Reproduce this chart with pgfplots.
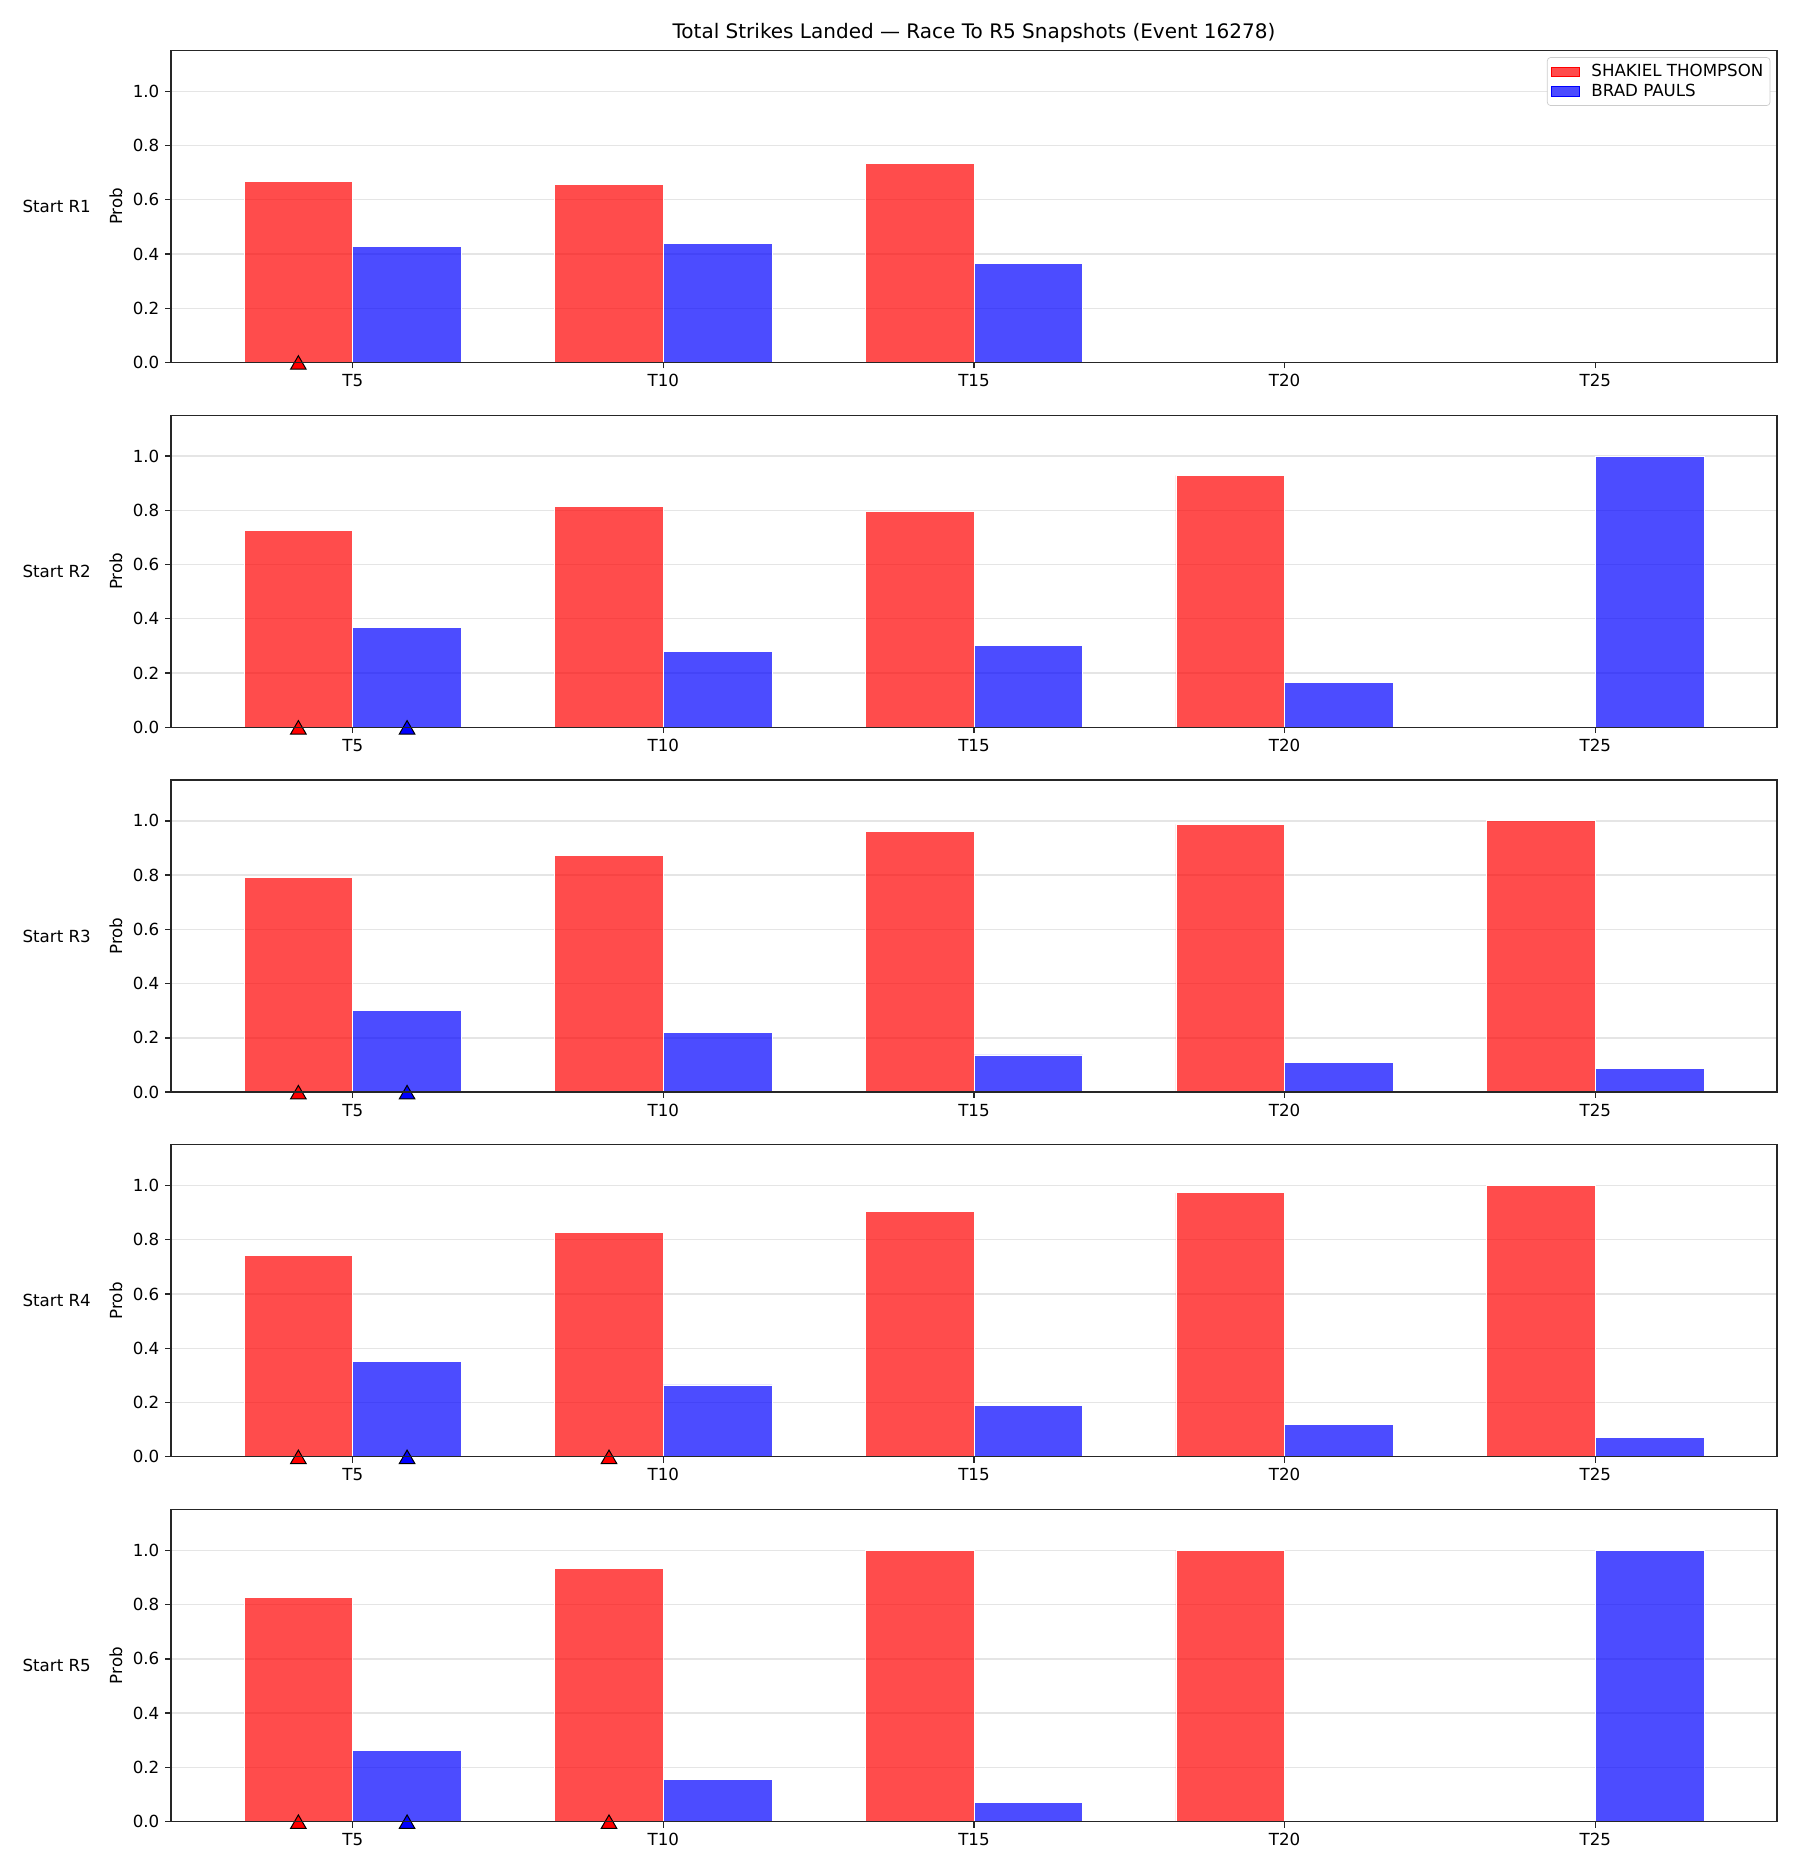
\documentclass[border=0pt]{standalone}
\usepackage{pgfplots}
\pgfplotsset{compat=1.18}
\usepackage{fontspec}
\setmainfont{DejaVu Sans}
\tikzset{startlab/.style={font=\fontsize{10}{12}\selectfont, xshift=-68.6pt}}
\pgfplotsset{layers/mylayers/.define layer set={axis background,axis grid,main,axis ticks,axis lines,axis tick labels,axis descriptions,axis foreground}{}}
\begin{document}
\begin{tikzpicture}
\pgfplotsset{
 panel/.style={at={(102.6pt,#1)}, anchor=south west, scale only axis,
  set layers=mylayers,
  width=963.6pt, height=187.2pt,
  xmin=-0.585, xmax=4.585, ymin=0, ymax=1.15,
  xtick={0,1,2,3,4}, xticklabels={T5,T10,T15,T20,T25},
  ytick={0,0.2,0.4,0.6,0.8,1.0},
  yticklabel style={/pgf/number format/fixed, /pgf/number format/fixed zerofill, /pgf/number format/precision=1},
  /pgf/number format/assume math mode=true,
  tick align=outside, tick pos=left, major tick length=3.5pt,
  ymajorgrids, grid style={color=black!10, line width=0.8pt},
  axis line style={line width=0.8pt, black!85},
  every tick/.style={black!85, line width=0.8pt},
  tick label style={font=\fontsize{10}{12}\selectfont, black},
  ylabel={Prob},
  every axis y label/.style={at={(axis description cs:-0.03425,0.5)}, rotate=90, anchor=center, font=\fontsize{10}{12}\selectfont},
  extra description/.code={\draw[black!85, line width=0.8pt, line cap=rect] (0,0) -- (1,0);},
  clip=false},
 rbar/.style={ybar, bar width=0.35, bar shift=-0.175, fill=red, fill opacity=0.7, draw=white, line width=0.5pt,
  legend image code/.code={\path (0pt,0pt) -- (22pt,0pt); \fill[red, fill opacity=0.7, sharp corners] (0pt,-2.8pt) rectangle (17pt,2.8pt);}},
 bbar/.style={ybar, bar width=0.35, bar shift=0.175, fill=blue, fill opacity=0.7, draw=white, line width=0.5pt,
  legend image code/.code={\path (0pt,0pt) -- (22pt,0pt); \fill[blue, fill opacity=0.7, sharp corners] (0pt,-2.8pt) rectangle (17pt,2.8pt);}},
 rtri/.style={only marks, on layer=axis foreground, mark=triangle*, mark size=5.4pt, mark options={fill=red, draw=black, line width=0.6pt, yshift=-1.35pt}, forget plot},
 btri/.style={only marks, on layer=axis foreground, mark=triangle*, mark size=5.4pt, mark options={fill=blue, draw=black, line width=0.6pt, yshift=-1.35pt}, forget plot}
}
\path (0pt,0pt) rectangle (1080pt,1125pt);
\node[font=\fontsize{12}{14}\selectfont] at (584.4pt,1105pt) {Total Strikes Landed — Race To R5 Snapshots (Event 16278)};

% Panel 1
\begin{axis}[panel=907.5pt,
  legend style={at={(1,1)}, anchor=north east, xshift=-4pt, yshift=-4pt, draw=black!20, rounded corners=2pt, font=\fontsize{10}{12}\selectfont, cells={anchor=west}, row sep=-1pt, inner sep=2pt}]
\addplot[rbar] coordinates {(0,0.666) (1,0.657) (2,0.732) (3,0) (4,0)};
\addlegendentry{SHAKIEL THOMPSON}
\addplot[bbar] coordinates {(0,0.427) (1,0.438) (2,0.366) (3,0) (4,0)};
\addlegendentry{BRAD PAULS}
\addplot[rtri] coordinates {(-0.175,0)};
\node[startlab] at (axis description cs:0,0.5) {Start R1};
\end{axis}

% Panel 2
\begin{axis}[panel=688.6pt]
\addplot[rbar] coordinates {(0,0.726) (1,0.814) (2,0.796) (3,0.929) (4,0)};
\addplot[bbar] coordinates {(0,0.367) (1,0.279) (2,0.301) (3,0.164) (4,1.0)};
\addplot[rtri] coordinates {(-0.175,0)};
\addplot[btri] coordinates {(0.175,0)};
\node[startlab] at (axis description cs:0,0.5) {Start R2};
\end{axis}

% Panel 3
\begin{axis}[panel=469.7pt]
\addplot[rbar] coordinates {(0,0.792) (1,0.872) (2,0.960) (3,0.987) (4,1.0)};
\addplot[bbar] coordinates {(0,0.301) (1,0.221) (2,0.137) (3,0.111) (4,0.088)};
\addplot[rtri] coordinates {(-0.175,0)};
\addplot[btri] coordinates {(0.175,0)};
\node[startlab] at (axis description cs:0,0.5) {Start R3};
\end{axis}

% Panel 4
\begin{axis}[panel=250.9pt]
\addplot[rbar] coordinates {(0,0.743) (1,0.827) (2,0.903) (3,0.973) (4,1.0)};
\addplot[bbar] coordinates {(0,0.350) (1,0.265) (2,0.190) (3,0.119) (4,0.071)};
\addplot[rtri] coordinates {(-0.175,0) (0.825,0)};
\addplot[btri] coordinates {(0.175,0)};
\node[startlab] at (axis description cs:0,0.5) {Start R4};
\end{axis}

% Panel 5
\begin{axis}[panel=32.0pt]
\addplot[rbar] coordinates {(0,0.827) (1,0.934) (2,1.0) (3,1.0) (4,0)};
\addplot[bbar] coordinates {(0,0.261) (1,0.155) (2,0.071) (3,0.005) (4,1.0)};
\addplot[rtri] coordinates {(-0.175,0) (0.825,0)};
\addplot[btri] coordinates {(0.175,0)};
\node[startlab] at (axis description cs:0,0.5) {Start R5};
\end{axis}
\end{tikzpicture}
\end{document}
